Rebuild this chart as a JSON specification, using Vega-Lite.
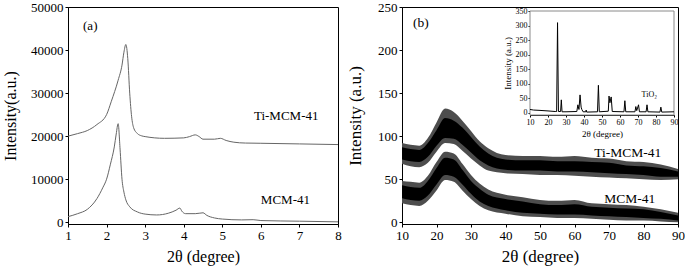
{
  "$schema": "https://vega.github.io/schema/vega-lite/v6.json",
  "padding": {"left": 2, "top": 0, "right": 6, "bottom": 4},
  "spacing": 64,
  "bounds": "flush",
  "config": {
    "font": "Liberation Serif",
    "view": {"stroke": "black", "strokeWidth": 1},
    "axis": {"grid": false, "labelFont": "Liberation Serif", "titleFont": "Liberation Serif", "labelFontSize": 13, "titleFontSize": 16, "titleFontWeight": "normal", "labelColor": "black", "titleColor": "black", "domainColor": "black", "tickColor": "black", "tickSize": 3, "labelPadding": 2, "labelFlush": false, "labelOverlap": false}
  },
  "hconcat": [
    {
      "width": 270,
      "height": 217,
      "layer": [
        {
          "data": {"values": [
            {"s": "Ti-MCM-41", "x": 1.0, "y": 20000}, {"s": "Ti-MCM-41", "x": 1.25, "y": 20600}, {"s": "Ti-MCM-41", "x": 1.5, "y": 21300}, {"s": "Ti-MCM-41", "x": 1.75, "y": 22700}, {"s": "Ti-MCM-41", "x": 2.0, "y": 25000}, {"s": "Ti-MCM-41", "x": 2.12, "y": 28000}, {"s": "Ti-MCM-41", "x": 2.3, "y": 33000}, {"s": "Ti-MCM-41", "x": 2.4, "y": 36500}, {"s": "Ti-MCM-41", "x": 2.45, "y": 39500}, {"s": "Ti-MCM-41", "x": 2.5, "y": 41300}, {"s": "Ti-MCM-41", "x": 2.55, "y": 38000}, {"s": "Ti-MCM-41", "x": 2.6, "y": 30000}, {"s": "Ti-MCM-41", "x": 2.65, "y": 24500}, {"s": "Ti-MCM-41", "x": 2.7, "y": 22000}, {"s": "Ti-MCM-41", "x": 2.8, "y": 20600}, {"s": "Ti-MCM-41", "x": 2.9, "y": 20100}, {"s": "Ti-MCM-41", "x": 3.0, "y": 19900}, {"s": "Ti-MCM-41", "x": 3.5, "y": 19500}, {"s": "Ti-MCM-41", "x": 4.0, "y": 19600}, {"s": "Ti-MCM-41", "x": 4.15, "y": 19900}, {"s": "Ti-MCM-41", "x": 4.3, "y": 20300}, {"s": "Ti-MCM-41", "x": 4.4, "y": 19900}, {"s": "Ti-MCM-41", "x": 4.5, "y": 19300}, {"s": "Ti-MCM-41", "x": 4.8, "y": 19300}, {"s": "Ti-MCM-41", "x": 4.95, "y": 19500}, {"s": "Ti-MCM-41", "x": 5.1, "y": 19000}, {"s": "Ti-MCM-41", "x": 5.3, "y": 18600}, {"s": "Ti-MCM-41", "x": 5.6, "y": 18400}, {"s": "Ti-MCM-41", "x": 6.0, "y": 18350}, {"s": "Ti-MCM-41", "x": 7.0, "y": 18200}, {"s": "Ti-MCM-41", "x": 8.0, "y": 18050},
            {"s": "MCM-41", "x": 1.0, "y": 1300}, {"s": "MCM-41", "x": 1.25, "y": 2000}, {"s": "MCM-41", "x": 1.5, "y": 3000}, {"s": "MCM-41", "x": 1.75, "y": 5500}, {"s": "MCM-41", "x": 1.9, "y": 8000}, {"s": "MCM-41", "x": 2.0, "y": 10000}, {"s": "MCM-41", "x": 2.1, "y": 13500}, {"s": "MCM-41", "x": 2.2, "y": 17500}, {"s": "MCM-41", "x": 2.25, "y": 20500}, {"s": "MCM-41", "x": 2.3, "y": 22900}, {"s": "MCM-41", "x": 2.35, "y": 17000}, {"s": "MCM-41", "x": 2.4, "y": 10000}, {"s": "MCM-41", "x": 2.45, "y": 7000}, {"s": "MCM-41", "x": 2.5, "y": 5200}, {"s": "MCM-41", "x": 2.6, "y": 3600}, {"s": "MCM-41", "x": 2.8, "y": 2400}, {"s": "MCM-41", "x": 3.0, "y": 1900}, {"s": "MCM-41", "x": 3.3, "y": 1700}, {"s": "MCM-41", "x": 3.6, "y": 2100}, {"s": "MCM-41", "x": 3.8, "y": 2800}, {"s": "MCM-41", "x": 3.9, "y": 3300}, {"s": "MCM-41", "x": 3.95, "y": 2600}, {"s": "MCM-41", "x": 4.05, "y": 2000}, {"s": "MCM-41", "x": 4.3, "y": 2000}, {"s": "MCM-41", "x": 4.5, "y": 2200}, {"s": "MCM-41", "x": 4.6, "y": 1600}, {"s": "MCM-41", "x": 4.8, "y": 1000}, {"s": "MCM-41", "x": 5.0, "y": 750}, {"s": "MCM-41", "x": 5.5, "y": 550}, {"s": "MCM-41", "x": 5.8, "y": 600}, {"s": "MCM-41", "x": 6.0, "y": 400}, {"s": "MCM-41", "x": 7.0, "y": 250}, {"s": "MCM-41", "x": 8.0, "y": 100}
          ]},
          "mark": {"type": "line", "color": "#666666", "strokeWidth": 1, "interpolate": "monotone"},
          "encoding": {
            "x": {"field": "x", "type": "quantitative", "scale": {"domain": [1, 8], "nice": false}, "axis": {"values": [1, 2, 3, 4, 5, 6, 7, 8], "labelOverlap": false, "title": "2θ (degree)", "titlePadding": 6}},
            "y": {"field": "y", "type": "quantitative", "scale": {"domain": [-400, 50000], "nice": false, "zero": false}, "axis": {"values": [0, 10000, 20000, 30000, 40000, 50000], "labelOverlap": false, "format": "d", "title": "Intensity(a.u.)", "titlePadding": 12}},
            "detail": {"field": "s"}
          }
        },
        {
          "data": {"values": [
            {"x": 1.39, "y": 45600, "t": "(a)"},
            {"x": 5.82, "y": 24770, "t": "Ti-MCM-41"},
            {"x": 6.0, "y": 5090, "t": "MCM-41"}
          ]},
          "mark": {"type": "text", "align": "left", "baseline": "middle", "fontSize": 13, "color": "black", "font": "Liberation Serif"},
          "encoding": {
            "x": {"field": "x", "type": "quantitative", "axis": {"values": [1, 2, 3, 4, 5, 6, 7, 8], "labelOverlap": false, "title": "2θ (degree)", "titlePadding": 6}},
            "y": {"field": "y", "type": "quantitative", "axis": {"values": [0, 10000, 20000, 30000, 40000, 50000], "labelOverlap": false, "format": "d", "title": "Intensity(a.u.)", "titlePadding": 12}},
            "text": {"field": "t"}
          }
        }
      ]
    },
    {
      "width": 276,
      "height": 217,
      "resolve": {"scale": {"x": "independent", "y": "independent"}, "axis": {"x": "independent", "y": "independent"}},
      "layer": [
        {
          "layer": [
            {
              "data": {"name": "bands", "values": [
                {"s": "Ti-MCM-41", "x": 10, "lo": 68, "hi": 92, "clo": 73, "chi": 87}, {"s": "Ti-MCM-41", "x": 12.5, "lo": 65, "hi": 90, "clo": 71, "chi": 85}, {"s": "Ti-MCM-41", "x": 15, "lo": 64, "hi": 89, "clo": 70, "chi": 84}, {"s": "Ti-MCM-41", "x": 17.5, "lo": 69, "hi": 98, "clo": 76, "chi": 92}, {"s": "Ti-MCM-41", "x": 20, "lo": 82, "hi": 116, "clo": 89, "chi": 107}, {"s": "Ti-MCM-41", "x": 22.5, "lo": 92, "hi": 132, "clo": 98, "chi": 121}, {"s": "Ti-MCM-41", "x": 25, "lo": 91, "hi": 128, "clo": 97, "chi": 118}, {"s": "Ti-MCM-41", "x": 27.5, "lo": 83, "hi": 118, "clo": 90, "chi": 110}, {"s": "Ti-MCM-41", "x": 30, "lo": 74, "hi": 106, "clo": 81, "chi": 99}, {"s": "Ti-MCM-41", "x": 32.5, "lo": 66, "hi": 94, "clo": 72, "chi": 88}, {"s": "Ti-MCM-41", "x": 35, "lo": 60, "hi": 86, "clo": 66, "chi": 80}, {"s": "Ti-MCM-41", "x": 40, "lo": 57, "hi": 78, "clo": 61, "chi": 73}, {"s": "Ti-MCM-41", "x": 45, "lo": 56, "hi": 77, "clo": 60, "chi": 72}, {"s": "Ti-MCM-41", "x": 50, "lo": 55, "hi": 77, "clo": 60, "chi": 72}, {"s": "Ti-MCM-41", "x": 55, "lo": 55, "hi": 76, "clo": 59, "chi": 71}, {"s": "Ti-MCM-41", "x": 60, "lo": 54, "hi": 77, "clo": 59, "chi": 71}, {"s": "Ti-MCM-41", "x": 65, "lo": 53, "hi": 75, "clo": 58, "chi": 70}, {"s": "Ti-MCM-41", "x": 70, "lo": 52, "hi": 74, "clo": 57, "chi": 69}, {"s": "Ti-MCM-41", "x": 75, "lo": 51, "hi": 71, "clo": 56, "chi": 66}, {"s": "Ti-MCM-41", "x": 80, "lo": 50, "hi": 70, "clo": 55, "chi": 65}, {"s": "Ti-MCM-41", "x": 85, "lo": 49, "hi": 67, "clo": 53, "chi": 63}, {"s": "Ti-MCM-41", "x": 90, "lo": 50, "hi": 62, "clo": 53, "chi": 59},
                {"s": "MCM-41", "x": 10, "lo": 22, "hi": 48, "clo": 28, "chi": 43}, {"s": "MCM-41", "x": 12.5, "lo": 20, "hi": 47, "clo": 26, "chi": 41}, {"s": "MCM-41", "x": 15, "lo": 19, "hi": 46, "clo": 25, "chi": 40}, {"s": "MCM-41", "x": 17.5, "lo": 25, "hi": 54, "clo": 31, "chi": 48}, {"s": "MCM-41", "x": 20, "lo": 37, "hi": 70, "clo": 44, "chi": 63}, {"s": "MCM-41", "x": 22.5, "lo": 49, "hi": 82, "clo": 55, "chi": 75}, {"s": "MCM-41", "x": 25, "lo": 47, "hi": 80, "clo": 53, "chi": 73}, {"s": "MCM-41", "x": 27.5, "lo": 37, "hi": 68, "clo": 44, "chi": 61}, {"s": "MCM-41", "x": 30, "lo": 27, "hi": 55, "clo": 33, "chi": 48}, {"s": "MCM-41", "x": 32.5, "lo": 19, "hi": 45, "clo": 24, "chi": 39}, {"s": "MCM-41", "x": 35, "lo": 14, "hi": 38, "clo": 19, "chi": 32}, {"s": "MCM-41", "x": 40, "lo": 10, "hi": 32, "clo": 14, "chi": 27}, {"s": "MCM-41", "x": 45, "lo": 7, "hi": 29, "clo": 11, "chi": 24}, {"s": "MCM-41", "x": 50, "lo": 6, "hi": 26, "clo": 10, "chi": 21}, {"s": "MCM-41", "x": 55, "lo": 5, "hi": 25, "clo": 9, "chi": 20}, {"s": "MCM-41", "x": 60, "lo": 5, "hi": 26, "clo": 9, "chi": 21}, {"s": "MCM-41", "x": 65, "lo": 4, "hi": 22, "clo": 8, "chi": 18}, {"s": "MCM-41", "x": 70, "lo": 3, "hi": 21, "clo": 7, "chi": 17}, {"s": "MCM-41", "x": 75, "lo": 2, "hi": 20, "clo": 6, "chi": 16}, {"s": "MCM-41", "x": 80, "lo": 2, "hi": 18, "clo": 5, "chi": 15}, {"s": "MCM-41", "x": 85, "lo": 1, "hi": 15, "clo": 4, "chi": 12}, {"s": "MCM-41", "x": 90, "lo": 0, "hi": 11, "clo": 2, "chi": 8}
              ]},
              "mark": {"type": "area", "color": "#4d4d4d", "interpolate": "monotone"},
              "encoding": {
                "x": {"field": "x", "type": "quantitative", "scale": {"domain": [10, 90], "nice": false}, "axis": {"values": [10, 20, 30, 40, 50, 60, 70, 80, 90], "labelOverlap": false, "title": "2θ (degree)", "titleFontSize": 17, "titlePadding": 6}},
                "y": {"field": "lo", "type": "quantitative", "scale": {"domain": [-2, 250], "nice": false, "zero": false}, "axis": {"values": [0, 50, 100, 150, 200, 250], "labelOverlap": false, "title": "Intensity (a.u.)", "titleFontSize": 17, "titlePadding": 13}},
                "y2": {"field": "hi"},
                "detail": {"field": "s"}
              }
            },
            {
              "data": {"name": "bands"},
              "mark": {"type": "area", "color": "#000000", "interpolate": "monotone"},
              "encoding": {
                "x": {"field": "x", "type": "quantitative", "axis": {"values": [10, 20, 30, 40, 50, 60, 70, 80, 90], "labelOverlap": false, "title": "2θ (degree)", "titleFontSize": 17, "titlePadding": 6}},
                "y": {"field": "clo", "type": "quantitative", "axis": {"values": [0, 50, 100, 150, 200, 250], "labelOverlap": false, "title": "Intensity (a.u.)", "titleFontSize": 17, "titlePadding": 13}},
                "y2": {"field": "chi"},
                "detail": {"field": "s"}
              }
            },
            {
              "data": {"values": [
                {"x": 13.2, "y": 231, "t": "(b)"},
                {"x": 65.7, "y": 81, "t": "Ti-MCM-41"},
                {"x": 68.6, "y": 26.6, "t": "MCM-41"}
              ]},
              "mark": {"type": "text", "align": "left", "baseline": "middle", "fontSize": 13.5, "color": "black", "font": "Liberation Serif"},
              "encoding": {
                "x": {"field": "x", "type": "quantitative", "axis": {"values": [10, 20, 30, 40, 50, 60, 70, 80, 90], "labelOverlap": false, "title": "2θ (degree)", "titleFontSize": 17, "titlePadding": 6}},
                "y": {"field": "y", "type": "quantitative", "axis": {"values": [0, 50, 100, 150, 200, 250], "labelOverlap": false, "title": "Intensity (a.u.)", "titleFontSize": 17, "titlePadding": 13}},
                "text": {"field": "t"}
              }
            }
          ]
        },
        {
          "layer": [
            {
              "data": {"values": [{"x1": 10, "x2": 90, "y1": -7, "y2": 350}]},
              "mark": {"type": "rect", "fill": "white", "stroke": "#8a8a8a", "strokeWidth": 1},
              "encoding": {
                "x": {"field": "x1", "type": "quantitative", "scale": {"domain": [10, 90], "range": [128, 272], "nice": false}, "axis": {"orient": "bottom", "offset": -109, "values": [10, 20, 30, 40, 50, 60, 70, 80, 90], "labelOverlap": false, "labelFontSize": 8, "titleFontSize": 9, "tickSize": 2, "labelPadding": 1, "title": "2θ (degree)", "titlePadding": 3}},
                "x2": {"field": "x2"},
                "y": {"field": "y1", "type": "quantitative", "scale": {"domain": [-7, 350], "range": [108, 4], "nice": false, "zero": false}, "axis": {"orient": "left", "offset": -128, "values": [0, 50, 100, 150, 200, 250, 300, 350], "labelOverlap": false, "labelFontSize": 8, "titleFontSize": 9, "tickSize": 2, "labelPadding": 1, "title": "Intensity (a.u.)", "titlePadding": 3}},
                "y2": {"field": "y2"}
              }
            },
            {
              "data": {"values": [
                {"x": 10, "y": 12}, {"x": 12, "y": 10}, {"x": 15, "y": 9}, {"x": 20, "y": 7}, {"x": 24, "y": 5}, {"x": 24.8, "y": 5}, {"x": 25.3, "y": 310}, {"x": 25.8, "y": 5}, {"x": 27, "y": 5}, {"x": 27.4, "y": 45}, {"x": 27.8, "y": 4}, {"x": 30, "y": 4}, {"x": 36, "y": 5}, {"x": 36.6, "y": 28}, {"x": 37.2, "y": 12}, {"x": 37.8, "y": 62}, {"x": 38.4, "y": 20}, {"x": 38.8, "y": 12}, {"x": 39.5, "y": 4}, {"x": 41, "y": 4}, {"x": 41.2, "y": 10}, {"x": 41.5, "y": 3}, {"x": 47.5, "y": 4}, {"x": 48, "y": 95}, {"x": 48.5, "y": 4}, {"x": 53.5, "y": 6}, {"x": 53.9, "y": 58}, {"x": 54.4, "y": 35}, {"x": 55.1, "y": 55}, {"x": 55.7, "y": 5}, {"x": 62.2, "y": 4}, {"x": 62.7, "y": 42}, {"x": 63.2, "y": 4}, {"x": 68.3, "y": 4}, {"x": 68.8, "y": 22}, {"x": 69.3, "y": 8}, {"x": 70.3, "y": 28}, {"x": 70.8, "y": 4}, {"x": 74.5, "y": 4}, {"x": 75, "y": 28}, {"x": 75.5, "y": 4}, {"x": 82.2, "y": 3}, {"x": 82.7, "y": 20}, {"x": 83.2, "y": 3}, {"x": 90, "y": 4}
              ]},
              "mark": {"type": "line", "color": "black", "strokeWidth": 1},
              "encoding": {
                "x": {"field": "x", "type": "quantitative", "axis": {"orient": "bottom", "offset": -109, "values": [10, 20, 30, 40, 50, 60, 70, 80, 90], "labelOverlap": false, "labelFontSize": 8, "titleFontSize": 9, "tickSize": 2, "labelPadding": 1, "title": "2θ (degree)", "titlePadding": 3}},
                "y": {"field": "y", "type": "quantitative", "axis": {"orient": "left", "offset": -128, "values": [0, 50, 100, 150, 200, 250, 300, 350], "labelOverlap": false, "labelFontSize": 8, "titleFontSize": 9, "tickSize": 2, "labelPadding": 1, "title": "Intensity (a.u.)", "titlePadding": 3}}
              }
            },
            {
              "data": {"values": [{"x": 72, "y": 62, "t": "TiO₂"}]},
              "mark": {"type": "text", "align": "left", "baseline": "middle", "fontSize": 8, "color": "black", "font": "Liberation Serif"},
              "encoding": {
                "x": {"field": "x", "type": "quantitative", "axis": {"orient": "bottom", "offset": -109, "values": [10, 20, 30, 40, 50, 60, 70, 80, 90], "labelOverlap": false, "labelFontSize": 8, "titleFontSize": 9, "tickSize": 2, "labelPadding": 1, "title": "2θ (degree)", "titlePadding": 3}},
                "y": {"field": "y", "type": "quantitative", "axis": {"orient": "left", "offset": -128, "values": [0, 50, 100, 150, 200, 250, 300, 350], "labelOverlap": false, "labelFontSize": 8, "titleFontSize": 9, "tickSize": 2, "labelPadding": 1, "title": "Intensity (a.u.)", "titlePadding": 3}},
                "text": {"field": "t"}
              }
            }
          ]
        }
      ]
    }
  ]
}
